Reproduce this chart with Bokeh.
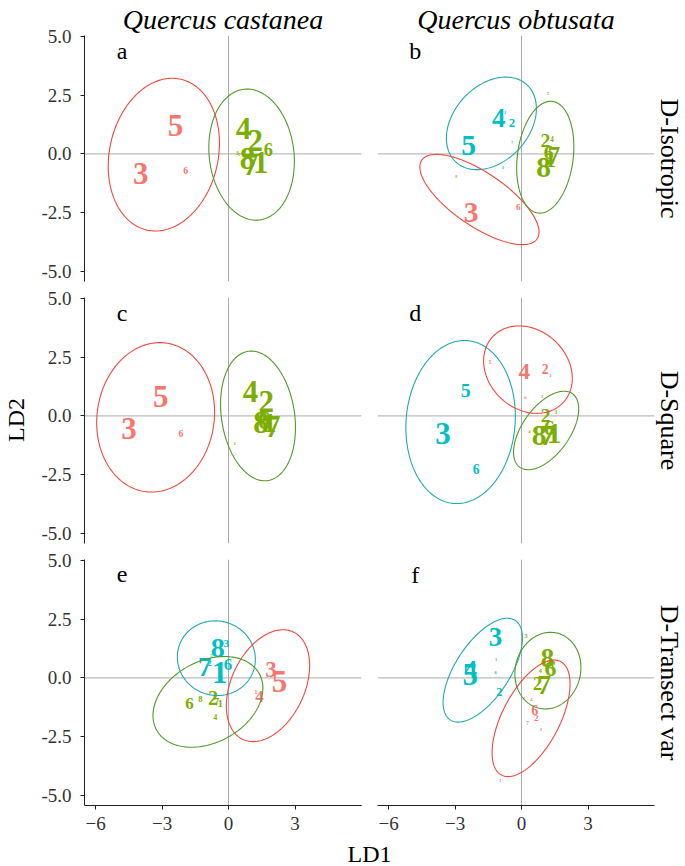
import numpy as np
from bokeh.plotting import figure
from bokeh.layouts import gridplot, row, column
from bokeh.models import Span, Title, ColumnDataSource, Range1d, FixedTicker, NumeralTickFormatter, Label
from bokeh.core.properties import value
from bokeh.embed import file_html
from bokeh.resources import INLINE

# ---------------- data ----------------
species = ["Quercus castanea", "Quercus obtusata"]
designs = ["D-Isotropic", "D-Square", "D-Transect var"]
panel_tags = [["a", "b"], ["c", "d"], ["e", "f"]]
x_ticks = [-6, -3, 0, 3]
y_ticks = [-5.0, -2.5, 0.0, 2.5, 5.0]

# group codes: r = red, g = green, c = cyan ; weight = relative label size
a_label = ["5", "3", "6", "4", "2", "6", "8", "7", "1", "3", "5"]
a_x = [-2.39, -3.96, -1.94, 0.68, 1.20, 1.80, 0.85, 1.00, 1.45, 0.40, 0.48]
a_y = [1.19, -0.85, -0.72, 1.10, 0.55, 0.20, -0.20, -0.45, -0.35, 0.02, -0.04]
a_group = ["r", "r", "r", "g", "g", "g", "g", "g", "g", "g", "g"]
a_weight = [1.0, 1.0, 0.24, 1.0, 1.0, 0.55, 1.0, 1.0, 1.0, 0.08, 0.05]

b_label = ["4", "2", "1", "7", "5", "3", "8", "3", "6", "5", "2", "4", "6", "7", "1", "8"]
b_x = [-1.03, -0.43, -0.73, -0.43, -2.39, -0.85, -2.95, -2.27, -0.15, 1.20, 1.08, 1.38, 1.23, 1.46, 1.30, 1.00]
b_y = [1.55, 1.33, 1.76, 0.50, 0.36, -0.56, -0.94, -2.48, -2.26, 2.56, 0.57, 0.65, 0.08, -0.06, -0.25, -0.56]
b_group = ["c", "c", "c", "c", "c", "c", "r", "r", "r", "g", "g", "g", "g", "g", "g", "g"]
b_weight = [0.85, 0.35, 0.05, 0.04, 0.95, 0.04, 0.04, 0.95, 0.22, 0.05, 0.60, 0.15, 0.60, 0.80, 0.70, 0.95]

c_label = ["5", "3", "6", "4", "2", "6", "1", "8", "7", "5", "3"]
c_x = [-3.06, -4.49, -2.15, 0.99, 1.70, 1.60, 1.85, 1.47, 1.99, 1.45, 0.27]
c_y = [0.81, -0.54, -0.75, 1.02, 0.60, -0.20, -0.30, -0.26, -0.47, -0.10, -1.17]
c_group = ["r", "r", "r", "g", "g", "g", "g", "g", "g", "g", "g"]
c_weight = [1.0, 1.0, 0.24, 1.0, 1.0, 0.80, 0.90, 1.0, 1.0, 0.10, 0.04]

d_label = ["4", "2", "1", "5", "6", "3", "5", "3", "6", "2", "3", "6", "8", "7", "1", "4"]
d_x = [0.12, 1.06, 1.30, -1.42, 0.17, 0.94, -2.52, -3.54, -2.05, 1.09, 1.55, 1.25, 0.79, 1.17, 1.47, 0.35]
d_y = [1.90, 2.01, 1.72, 2.30, 0.78, 0.84, 1.09, -0.75, -2.27, 0.00, 0.15, -0.50, -0.82, -0.82, -0.75, -0.68]
d_group = ["r", "r", "r", "r", "r", "r", "c", "c", "c", "g", "g", "g", "g", "g", "g", "g"]
d_weight = [0.72, 0.38, 0.06, 0.08, 0.06, 0.04, 0.60, 1.0, 0.38, 0.60, 0.08, 0.65, 0.95, 0.95, 0.95, 0.05]

e_label = ["8", "3", "7", "2", "1", "6", "5", "3", "5", "4", "1", "6", "8", "2", "7", "1", "4"]
e_x = [-0.48, -0.10, -1.08, -0.85, -0.40, -0.03, -0.78, 1.92, 2.30, 1.40, 1.24, -1.76, -1.27, -0.70, -0.55, -0.37, -0.59]
e_y = [1.26, 1.48, 0.48, 0.65, 0.23, 0.55, 0.94, 0.34, -0.16, -0.80, -0.58, -1.08, -0.89, -0.86, -1.00, -1.11, -1.65]
e_group = ["c", "c", "c", "c", "c", "c", "c", "r", "r", "r", "r", "g", "g", "g", "g", "g", "g"]
e_weight = [0.90, 0.30, 0.85, 0.16, 1.0, 0.50, 0.05, 0.72, 1.0, 0.50, 0.10, 0.50, 0.20, 0.62, 0.30, 0.26, 0.16]

f_label = ["3", "5", "4", "1", "6", "2", "3", "8", "6", "1", "4", "2", "7", "5", "4", "6", "2", "7", "3", "1"]
f_x = [-1.18, -2.32, -2.30, -1.15, -1.17, -1.00, 0.20, 1.17, 1.31, 1.40, 0.85, 0.72, 1.02, 0.12, 0.45, 0.60, 0.67, 0.27, 0.87, -0.96]
f_y = [1.73, 0.15, 0.35, 0.77, 0.24, -0.62, 1.80, 0.84, 0.41, 0.55, 0.30, -0.23, -0.30, -0.89, -0.92, -1.36, -1.70, -1.93, -2.21, -4.38]
f_group = ["c", "c", "c", "c", "c", "c", "g", "g", "g", "g", "g", "g", "g", "r", "r", "r", "r", "r", "r", "r"]
f_weight = [0.85, 1.0, 0.80, 0.04, 0.05, 0.33, 0.13, 0.85, 0.75, 0.25, 0.12, 0.55, 0.90, 0.06, 0.06, 0.40, 0.22, 0.08, 0.06, 0.04]

# ellipses: centre, half extent in x / y, correlation
a_ell_group = ["r", "g"]
a_ell_cx = [-2.92, 1.04]
a_ell_cy = [-0.03, -0.03]
a_ell_rx = [2.51, 1.93]
a_ell_ry = [3.25, 2.79]
a_ell_rho = [0.15, -0.105]

b_ell_group = ["c", "r", "g"]
b_ell_cx = [-1.36, -1.90, 1.07]
b_ell_cy = [1.30, -1.94, -0.14]
b_ell_rx = [2.03, 2.69, 1.29]
b_ell_ry = [1.97, 1.92, 2.38]
b_ell_rho = [0.32, -0.72, 0.19]

c_ell_group = ["r", "g"]
c_ell_cx = [-3.29, 1.33]
c_ell_cy = [-0.06, 0.00]
c_ell_rx = [2.66, 1.69]
c_ell_ry = [3.18, 2.76]
c_ell_rho = [0.07, -0.18]

d_ell_group = ["c", "r", "g"]
d_ell_cx = [-2.75, 0.29, 1.11]
d_ell_cy = [-0.26, 1.97, -0.62]
d_ell_rx = [2.47, 2.00, 1.47]
d_ell_ry = [3.47, 1.86, 1.67]
d_ell_rho = [0.07, -0.20, 0.55]

e_ell_group = ["c", "r", "g"]
e_ell_cx = [-0.55, 1.78, -0.93]
e_ell_cy = [0.84, -0.33, -1.02]
e_ell_rx = [1.76, 1.88, 2.48]
e_ell_ry = [1.59, 2.38, 1.93]
e_ell_rho = [-0.03, 0.36, 0.30]

f_ell_group = ["c", "r", "g"]
f_ell_cx = [-1.75, 0.43, 1.19]
f_ell_cy = [0.33, -1.72, 0.31]
f_ell_rx = [1.79, 1.76, 1.49]
f_ell_ry = [2.21, 2.48, 1.63]
f_ell_rho = [0.62, 0.59, 0.08]

TEXT_DATA = {
    "a": (a_label, a_x, a_y, a_group, a_weight),
    "b": (b_label, b_x, b_y, b_group, b_weight),
    "c": (c_label, c_x, c_y, c_group, c_weight),
    "d": (d_label, d_x, d_y, d_group, d_weight),
    "e": (e_label, e_x, e_y, e_group, e_weight),
    "f": (f_label, f_x, f_y, f_group, f_weight),
}
ELL_DATA = {
    "a": (a_ell_group, a_ell_cx, a_ell_cy, a_ell_rx, a_ell_ry, a_ell_rho),
    "b": (b_ell_group, b_ell_cx, b_ell_cy, b_ell_rx, b_ell_ry, b_ell_rho),
    "c": (c_ell_group, c_ell_cx, c_ell_cy, c_ell_rx, c_ell_ry, c_ell_rho),
    "d": (d_ell_group, d_ell_cx, d_ell_cy, d_ell_rx, d_ell_ry, d_ell_rho),
    "e": (e_ell_group, e_ell_cx, e_ell_cy, e_ell_rx, e_ell_ry, e_ell_rho),
    "f": (f_ell_group, f_ell_cx, f_ell_cy, f_ell_rx, f_ell_ry, f_ell_rho),
}

# ---------------- style / layout ----------------
SERIF = "Liberation Serif"
TEXT_COL = {"r": "#F8766D", "g": "#7CAE00", "c": "#00BFC4"}
LINE_COL = {"r": "#F3473D", "g": "#53992A", "c": "#21A8B5"}
X_RANGE = (-6.5, 6.0)
Y_RANGE = (-5.43, 5.04)
FW, FH = 277, 246
SIDE_W = 30
LEFT_B, INNER_B, RIGHT_B = 54, 8, 30
TOP_B, GAP_B, BOTTOM_B = 35, 8, 36
FOOT_H = 24
TAG_X, TAG_Y = -4.8, 4.4


def font_px(w):
    return f"{3 + 28 * w:.1f}px"


def ellipse_pts(cx, cy, rx, ry, rho, n=240):
    t = np.linspace(0, 2 * np.pi, n)
    d = np.arccos(rho)
    return cx + rx * np.cos(t), cy + ry * np.cos(t - d)


def make_panel(ri, cj):
    tag = panel_tags[ri][cj]
    left, top, bottom = cj == 0, ri == 0, ri == 2
    p = figure(frame_width=FW, frame_height=FH,
               x_range=Range1d(*X_RANGE), y_range=Range1d(*Y_RANGE),
               output_backend="svg", toolbar_location=None,
               x_axis_location="below" if bottom else None,
               y_axis_location="left" if left else None,
               title=species[cj] if top else None,
               title_location="above" if top else None,
               min_border_left=LEFT_B if left else INNER_B,
               min_border_right=INNER_B if left else RIGHT_B,
               min_border_top=TOP_B if top else GAP_B,
               min_border_bottom=BOTTOM_B if bottom else GAP_B)
    p.outline_line_color = None
    p.xgrid.visible = False
    p.ygrid.visible = False
    p.background_fill_color = "white"
    p.border_fill_color = "white"

    if top:
        p.title.align = "center"
        p.title.text_font = SERIF
        p.title.text_font_style = "italic"
        p.title.text_font_size = "28px"
        p.title.text_color = "black"
        p.title.standoff = 2
    if not left:
        p.add_layout(Title(text=designs[ri], align="center", text_font=SERIF,
                           text_font_size="26px", text_font_style="normal",
                           text_color="black", standoff=0), "right")

    for ax in list(p.xaxis) + list(p.yaxis):
        ax.major_tick_out = 4
        ax.major_tick_in = 0
        ax.minor_tick_out = 0
        ax.minor_tick_in = 0
        ax.axis_line_color = "#222222"
        ax.major_tick_line_color = "#222222"
        ax.major_label_text_font = SERIF
        ax.major_label_text_font_size = "19px"
        ax.major_label_text_color = "#333333"
        ax.axis_label_standoff = 0
    if bottom:
        p.xaxis.ticker = FixedTicker(ticks=x_ticks)
        p.xaxis.major_label_standoff = 7
    if left:
        p.yaxis.ticker = FixedTicker(ticks=y_ticks)
        p.yaxis.formatter = NumeralTickFormatter(format="0.0")
        p.yaxis.major_label_standoff = 9

    p.add_layout(Span(location=0, dimension="width", line_color="#ABABAB", line_width=1, level="underlay"))
    p.add_layout(Span(location=0, dimension="height", line_color="#ABABAB", line_width=1, level="underlay"))

    lab, xs, ys, grp, wt = TEXT_DATA[tag]
    src = ColumnDataSource(dict(x=xs, y=ys, label=lab,
                                color=[TEXT_COL[g] for g in grp],
                                fs=[font_px(w) for w in wt]))
    p.text(x="x", y="y", text="label", text_color="color", text_font_size="fs",
           text_font=value(SERIF), text_font_style="bold",
           text_align="center", text_baseline="middle", source=src)

    egrp, ecx, ecy, erx, ery, erho = ELL_DATA[tag]
    for g, cx, cy, rx, ry, rho in zip(egrp, ecx, ecy, erx, ery, erho):
        ex, ey = ellipse_pts(cx, cy, rx, ry, rho)
        p.line(ex, ey, line_color=LINE_COL[g], line_width=1.1)

    p.add_layout(Label(x=TAG_X, y=TAG_Y, text=tag, text_font=SERIF, text_font_size="24px",
                       text_align="center", text_baseline="middle", text_color="black"))
    return p


panels = [[make_panel(ri, cj) for cj in range(2)] for ri in range(3)]
grid = gridplot(panels, toolbar_location=None)

grid_w = LEFT_B + 2 * FW + 2 * INNER_B + RIGHT_B
grid_h = TOP_B + 3 * FH + 4 * GAP_B + BOTTOM_B

# x-axis title strip (centred between the two columns of panels)
foot = figure(width=grid_w, height=FOOT_H, x_range=Range1d(0, grid_w), y_range=Range1d(0, 1),
              output_backend="svg", toolbar_location=None, min_border=0,
              x_axis_location=None, y_axis_location=None, title_location=None)
foot.outline_line_color = None
foot.xgrid.visible = False
foot.ygrid.visible = False
foot.text(x=[LEFT_B + FW + INNER_B], y=[0.5], text=["LD1"], text_font=value(SERIF),
          text_font_size="24px", text_align="center", text_baseline="middle", text_color="black")

# y-axis title strip
side = figure(width=SIDE_W, height=grid_h + FOOT_H, x_range=Range1d(0, 1), y_range=Range1d(0, 1),
              output_backend="svg", toolbar_location=None, min_border=0,
              x_axis_location=None, y_axis_location=None, title_location=None)
side.outline_line_color = None
side.xgrid.visible = False
side.ygrid.visible = False
side.text(x=[0.5], y=[0.515], text=["LD2"], angle=np.pi / 2, text_font=value(SERIF),
          text_font_size="24px", text_align="center", text_baseline="middle", text_color="black")

layout = row(side, column(grid, foot))
open("out.html", "w").write(file_html(layout, INLINE))
